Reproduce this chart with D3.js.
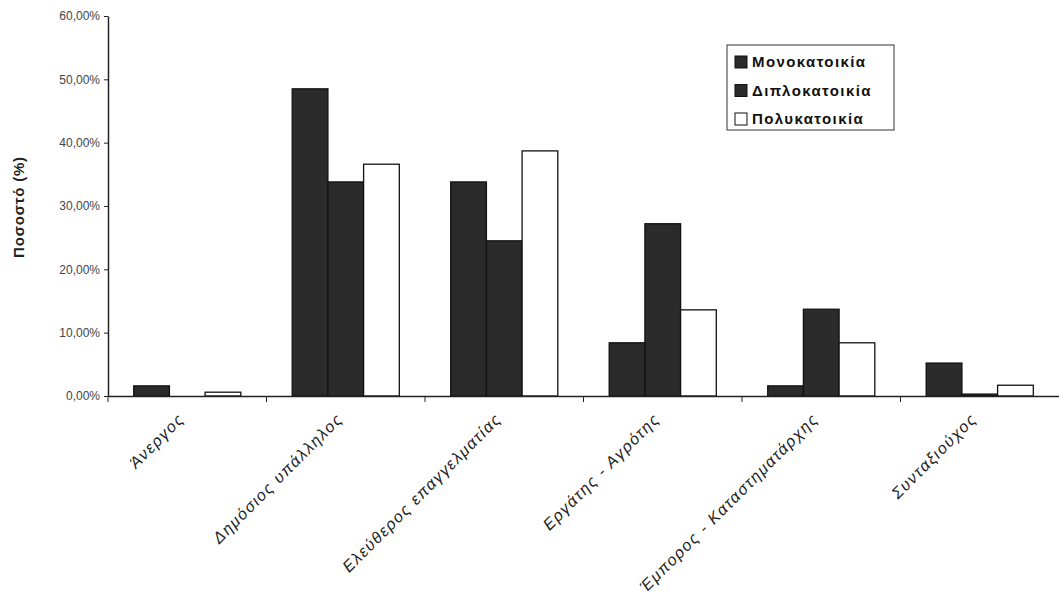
<!DOCTYPE html>
<html><head><meta charset="utf-8">
<script src="https://cdn.jsdelivr.net/npm/d3@7"></script>
<style>body{margin:0;background:#fff}svg{display:block}</style>
</head><body><svg id="c" width="1059" height="606"></svg>
<script>
const categories = ["Άνεργος","Δημόσιος υπάλληλος","Ελεύθερος επαγγελματίας","Εργάτης - Αγρότης","Έμπορος - Καταστηματάρχης","Συνταξιούχος"];
const seriesNames = ["Μονοκατοικία","Διπλοκατοικία","Πολυκατοικία"];
const mono = [1.6, 48.5, 33.8, 8.4, 1.6, 5.2];
const dipl = [0.0, 33.8, 24.5, 27.2, 13.7, 0.3];
const poly = [0.6, 36.6, 38.7, 13.6, 8.4, 1.7];
const yTicks = [0,10,20,30,40,50,60];

const svg = d3.select("#c");
const m = {left:108, right:1059, top:16, bottom:396};
const x = d3.scaleBand().domain(categories).range([m.left, m.right]).paddingInner(0).paddingOuter(0);
const x1 = d3.scaleBand().domain(seriesNames).range([0, x.bandwidth()]).paddingOuter(0.72).paddingInner(0);
const y = d3.scaleLinear().domain([0,60]).range([m.bottom, m.top]);
const fills = ["#2b2b2b","#2b2b2b","#ffffff"];
const data = [mono, dipl, poly];

const g = svg.append("g");
categories.forEach((c,i)=>{
  seriesNames.forEach((s,j)=>{
    const v = data[j][i];
    g.append("rect")
      .attr("x", x(c)+x1(s)).attr("y", y(v))
      .attr("width", x1.bandwidth()).attr("height", y(0)-y(v))
      .attr("fill", fills[j]).attr("stroke","#111").attr("stroke-width",1.3);
  });
});

// y axis
const ya = svg.append("g").attr("transform",`translate(${m.left},0)`)
  .call(d3.axisLeft(y).tickValues(yTicks).tickSize(4).tickSizeOuter(0)
    .tickFormat(d=>d3.format(".2f")(d).replace(".",",")+"%"));
ya.select(".domain").attr("stroke","#222").attr("stroke-width",1.5);
ya.selectAll(".tick line").attr("stroke","#222");
ya.selectAll("text").attr("font-family","Liberation Sans, Arial, sans-serif").attr("font-size",12).attr("fill","#444").attr("x",-8);

// x axis
const xa = svg.append("g").attr("transform",`translate(0,${m.bottom})`)
  .call(d3.axisBottom(x).tickSize(0).tickSizeOuter(0).tickFormat(""));
xa.select(".domain").attr("stroke","#222").attr("stroke-width",1.5);
const bounds = categories.map(c=>x(c));
svg.append("g").selectAll("line").data(bounds).join("line")
  .attr("x1",d=>d).attr("x2",d=>d).attr("y1",m.bottom).attr("y2",m.bottom+6)
  .attr("stroke","#222");
svg.append("g").selectAll("text").data(categories).join("text")
  .attr("transform",d=>`translate(${x(d)+x.bandwidth()/2-2},${m.bottom+24}) rotate(-45)`)
  .attr("text-anchor","end")
  .attr("font-family","Liberation Sans, Arial, sans-serif").attr("font-style","italic")
  .attr("font-size",16).attr("letter-spacing",1.5).attr("fill","#222")
  .text(d=>d);

// y label
svg.append("text").attr("transform","translate(24,207) rotate(-90)")
  .attr("text-anchor","middle").attr("font-family","Liberation Sans, Arial, sans-serif")
  .attr("font-weight","bold").attr("font-size",15).attr("letter-spacing",0.8).attr("fill","#222").text("Ποσοστό (%)");

// legend
const lg = svg.append("g");
lg.append("rect").attr("x",727).attr("y",45).attr("width",167).attr("height",85)
  .attr("fill","#fff").attr("stroke","#333").attr("stroke-width",1);
seriesNames.forEach((s,j)=>{
  const yy = 62 + j*28.5;
  lg.append("rect").attr("x",735).attr("y",yy-6).attr("width",12).attr("height",12)
    .attr("fill",fills[j]).attr("stroke","#111");
  lg.append("text").attr("x",752).attr("y",yy+5).attr("font-family","Liberation Sans, Arial, sans-serif")
    .attr("font-weight","bold").attr("font-size",15).attr("letter-spacing",1.4).attr("fill","#111").text(s);
});
</script></body></html>
